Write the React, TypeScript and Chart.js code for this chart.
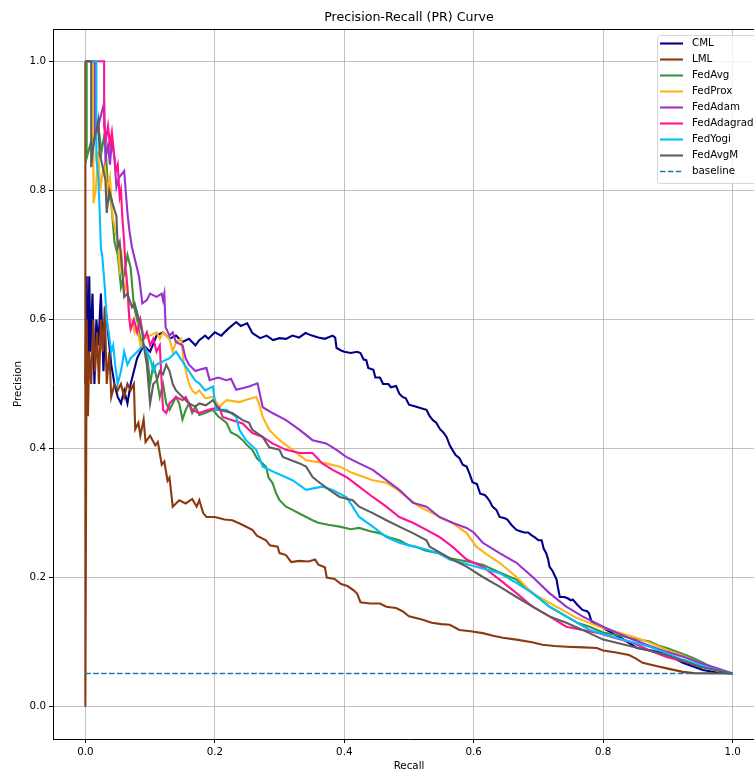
import React, { useEffect, useRef } from 'react';
import { Chart, registerables } from 'chart.js';

Chart.register(...registerables);

// ---------------- data ----------------
const chartTitle = 'Precision-Recall (PR) Curve';
const xAxisLabel = 'Recall';
const yAxisLabel = 'Precision';
const tickValues = [0, 0.2, 0.4, 0.6, 0.8, 1.0];

const seriesLabels = ['CML', 'LML', 'FedAvg', 'FedProx', 'FedAdam', 'FedAdagrad', 'FedYogi', 'FedAvgM'];
const seriesColors = ['#00008b', '#8b3a0f', '#3a923a', '#ffb414', '#9932cc', '#ff1493', '#00bfff', '#5e5e5e'];

const baselineLabel = 'baseline';
const baselineColor = '#1f77b4';
const baselineRecall = [0, 1];
const baselinePrecision = 0.0515;

// [recall, precision]
const cmlCurve = [
  [0, 0.5], [0.002, 0.667], [0.004, 0.5], [0.006, 0.667], [0.008, 0.55], [0.011, 0.64], [0.014, 0.5],
  [0.017, 0.6], [0.02, 0.56], [0.024, 0.64], [0.028, 0.52], [0.031, 0.62], [0.035, 0.58], [0.04, 0.53],
  [0.045, 0.5], [0.05, 0.48], [0.055, 0.47], [0.06, 0.49], [0.065, 0.47], [0.07, 0.5], [0.075, 0.52],
  [0.08, 0.54], [0.09, 0.56], [0.1, 0.55], [0.11, 0.575], [0.12, 0.58], [0.13, 0.57], [0.14, 0.575],
  [0.15, 0.565], [0.16, 0.57], [0.17, 0.56], [0.176, 0.568], [0.185, 0.575], [0.19, 0.57], [0.2, 0.58],
  [0.21, 0.575], [0.22, 0.585], [0.233, 0.596], [0.24, 0.59], [0.25, 0.594], [0.258, 0.579], [0.27, 0.571],
  [0.28, 0.575], [0.29, 0.568], [0.3, 0.571], [0.31, 0.57], [0.32, 0.575], [0.33, 0.572], [0.34, 0.579],
  [0.35, 0.575], [0.36, 0.572], [0.37, 0.57], [0.382, 0.575], [0.386, 0.572], [0.388, 0.556], [0.395, 0.552],
  [0.4, 0.55], [0.41, 0.548], [0.42, 0.55], [0.425, 0.548], [0.43, 0.538], [0.434, 0.537], [0.437, 0.525],
  [0.445, 0.522], [0.448, 0.51], [0.455, 0.51], [0.46, 0.5], [0.468, 0.5], [0.472, 0.495], [0.48, 0.497],
  [0.485, 0.485], [0.49, 0.48], [0.495, 0.478], [0.5, 0.468], [0.51, 0.465], [0.52, 0.462], [0.527, 0.46],
  [0.532, 0.45], [0.537, 0.444], [0.542, 0.44], [0.548, 0.43], [0.553, 0.425], [0.558, 0.418], [0.563, 0.405],
  [0.567, 0.398], [0.572, 0.39], [0.578, 0.385], [0.583, 0.375], [0.589, 0.372], [0.594, 0.36], [0.598, 0.348],
  [0.605, 0.345], [0.61, 0.33], [0.617, 0.328], [0.62, 0.325], [0.625, 0.318], [0.629, 0.31], [0.635, 0.305],
  [0.64, 0.294], [0.648, 0.292], [0.652, 0.29], [0.658, 0.282], [0.666, 0.274], [0.672, 0.272], [0.678, 0.27],
  [0.684, 0.27], [0.689, 0.266], [0.695, 0.262], [0.7, 0.258], [0.705, 0.258], [0.708, 0.245], [0.712, 0.238],
  [0.715, 0.228], [0.717, 0.217], [0.722, 0.21], [0.728, 0.197], [0.73, 0.185], [0.733, 0.17], [0.74, 0.17],
  [0.745, 0.168], [0.75, 0.165], [0.753, 0.166], [0.76, 0.158], [0.768, 0.15], [0.775, 0.148], [0.778, 0.145],
  [0.782, 0.132], [0.795, 0.125], [0.805, 0.119], [0.83, 0.105], [0.852, 0.091], [0.875, 0.087], [0.892, 0.083],
  [0.91, 0.075], [0.923, 0.068], [0.94, 0.062], [0.954, 0.057], [0.975, 0.053], [1.0, 0.0515],
];

const lmlCurve = [
  [0, 1.0], [0, 0], [0.002, 0.6], [0.004, 0.45], [0.006, 0.55], [0.009, 0.5], [0.012, 0.6], [0.015, 0.52],
  [0.018, 0.58], [0.021, 0.5], [0.024, 0.6], [0.027, 0.55], [0.03, 0.62], [0.033, 0.5], [0.037, 0.55],
  [0.04, 0.48], [0.045, 0.5], [0.05, 0.49], [0.055, 0.5], [0.06, 0.48], [0.065, 0.5], [0.07, 0.49],
  [0.075, 0.5], [0.077, 0.43], [0.082, 0.44], [0.085, 0.42], [0.09, 0.445], [0.093, 0.41], [0.1, 0.42],
  [0.108, 0.405], [0.112, 0.41], [0.118, 0.375], [0.122, 0.38], [0.127, 0.35], [0.13, 0.355], [0.135, 0.31],
  [0.145, 0.32], [0.155, 0.315], [0.165, 0.322], [0.172, 0.31], [0.176, 0.32], [0.182, 0.3], [0.187, 0.294],
  [0.2, 0.294], [0.215, 0.29], [0.227, 0.289], [0.24, 0.283], [0.258, 0.274], [0.265, 0.265], [0.279, 0.258],
  [0.285, 0.25], [0.297, 0.248], [0.3, 0.238], [0.31, 0.235], [0.318, 0.224], [0.33, 0.226], [0.345, 0.225],
  [0.355, 0.228], [0.36, 0.22], [0.37, 0.216], [0.373, 0.2], [0.385, 0.198], [0.395, 0.19], [0.405, 0.187],
  [0.415, 0.18], [0.42, 0.175], [0.425, 0.162], [0.44, 0.16], [0.455, 0.16], [0.465, 0.155], [0.48, 0.153],
  [0.49, 0.148], [0.5, 0.14], [0.52, 0.135], [0.535, 0.13], [0.55, 0.128], [0.563, 0.127], [0.578, 0.119],
  [0.595, 0.117], [0.614, 0.114], [0.63, 0.11], [0.645, 0.107], [0.666, 0.104], [0.69, 0.1], [0.706, 0.096],
  [0.725, 0.094], [0.743, 0.093], [0.77, 0.092], [0.79, 0.091], [0.8, 0.087], [0.82, 0.084], [0.84, 0.08],
  [0.85, 0.075], [0.861, 0.068], [0.882, 0.063], [0.9, 0.059], [0.923, 0.054], [0.94, 0.052], [1.0, 0.0515],
];

const fedAvgCurve = [
  [0, 1.0], [0.002, 1.0], [0.002, 0.85], [0.01, 0.88], [0.02, 0.9], [0.025, 0.86], [0.03, 0.89], [0.035, 0.8],
  [0.04, 0.78], [0.045, 0.72], [0.05, 0.7], [0.055, 0.65], [0.06, 0.67], [0.065, 0.7], [0.07, 0.68],
  [0.075, 0.62], [0.08, 0.6], [0.085, 0.57], [0.09, 0.56], [0.095, 0.55], [0.1, 0.5], [0.105, 0.53],
  [0.11, 0.51], [0.115, 0.48], [0.12, 0.5], [0.125, 0.47], [0.13, 0.46], [0.14, 0.48], [0.145, 0.47],
  [0.15, 0.445], [0.155, 0.46], [0.16, 0.47], [0.165, 0.455], [0.17, 0.465], [0.176, 0.452], [0.185, 0.455],
  [0.197, 0.46], [0.205, 0.45], [0.218, 0.44], [0.225, 0.425], [0.235, 0.42], [0.243, 0.413], [0.25, 0.405],
  [0.258, 0.398], [0.265, 0.385], [0.279, 0.372], [0.283, 0.355], [0.289, 0.347], [0.295, 0.33], [0.3, 0.32],
  [0.31, 0.31], [0.32, 0.305], [0.335, 0.297], [0.351, 0.289], [0.36, 0.285], [0.375, 0.282], [0.393, 0.279],
  [0.41, 0.275], [0.423, 0.277], [0.44, 0.272], [0.454, 0.269], [0.47, 0.262], [0.485, 0.258], [0.5, 0.25],
  [0.511, 0.248], [0.525, 0.242], [0.545, 0.238], [0.563, 0.23], [0.59, 0.225], [0.614, 0.22], [0.64, 0.208],
  [0.666, 0.197], [0.691, 0.176], [0.717, 0.155], [0.743, 0.14], [0.76, 0.13], [0.779, 0.124], [0.8, 0.115],
  [0.82, 0.111], [0.85, 0.105], [0.872, 0.101], [0.885, 0.095], [0.898, 0.091], [0.92, 0.083], [0.938, 0.076],
  [0.955, 0.068], [0.975, 0.057], [1.0, 0.0515],
];

const fedProxCurve = [
  [0, 1.0], [0.012, 1.0], [0.012, 0.85], [0.013, 0.78], [0.016, 0.8], [0.018, 0.83], [0.02, 0.86],
  [0.023, 0.8], [0.027, 0.83], [0.03, 0.84], [0.034, 0.8], [0.038, 0.82], [0.042, 0.76], [0.046, 0.74],
  [0.05, 0.72], [0.053, 0.68], [0.056, 0.7], [0.06, 0.64], [0.064, 0.66], [0.068, 0.6], [0.072, 0.6],
  [0.076, 0.58], [0.08, 0.59], [0.085, 0.56], [0.09, 0.57], [0.1, 0.575], [0.11, 0.58], [0.115, 0.57],
  [0.12, 0.58], [0.13, 0.57], [0.135, 0.55], [0.14, 0.565], [0.148, 0.57], [0.152, 0.535], [0.16, 0.5],
  [0.165, 0.49], [0.17, 0.485], [0.176, 0.49], [0.185, 0.478], [0.197, 0.48], [0.207, 0.465], [0.218, 0.475],
  [0.238, 0.472], [0.25, 0.476], [0.264, 0.48], [0.268, 0.47], [0.274, 0.449], [0.284, 0.429], [0.3, 0.413],
  [0.32, 0.398], [0.341, 0.382], [0.372, 0.377], [0.393, 0.372], [0.413, 0.362], [0.444, 0.351], [0.465, 0.347],
  [0.48, 0.338], [0.496, 0.325], [0.516, 0.31], [0.536, 0.3], [0.55, 0.292], [0.567, 0.285], [0.589, 0.269],
  [0.604, 0.248], [0.62, 0.236], [0.64, 0.223], [0.666, 0.201], [0.691, 0.176], [0.717, 0.161], [0.74, 0.148],
  [0.758, 0.138], [0.794, 0.124], [0.82, 0.116], [0.851, 0.107], [0.875, 0.098], [0.898, 0.088], [0.92, 0.08],
  [0.949, 0.068], [0.975, 0.058], [1.0, 0.0515],
];

const fedAdamCurve = [
  [0, 1.0], [0.015, 1.0], [0.015, 0.88], [0.02, 0.9], [0.025, 0.92], [0.029, 0.935], [0.031, 0.85],
  [0.035, 0.87], [0.038, 0.84], [0.041, 0.877], [0.045, 0.85], [0.048, 0.805], [0.052, 0.82], [0.06, 0.83],
  [0.065, 0.765], [0.068, 0.738], [0.072, 0.712], [0.078, 0.687], [0.083, 0.666], [0.088, 0.625], [0.095, 0.63],
  [0.1, 0.64], [0.11, 0.635], [0.118, 0.64], [0.12, 0.63], [0.122, 0.64], [0.124, 0.588], [0.13, 0.575],
  [0.135, 0.58], [0.14, 0.565], [0.15, 0.56], [0.155, 0.54], [0.16, 0.53], [0.17, 0.52], [0.176, 0.522],
  [0.187, 0.525], [0.192, 0.506], [0.205, 0.51], [0.218, 0.506], [0.225, 0.508], [0.233, 0.491], [0.253, 0.496],
  [0.266, 0.501], [0.274, 0.464], [0.289, 0.455], [0.31, 0.444], [0.331, 0.429], [0.351, 0.413], [0.372, 0.408],
  [0.388, 0.398], [0.403, 0.387], [0.423, 0.377], [0.444, 0.367], [0.465, 0.351], [0.485, 0.336], [0.506, 0.316],
  [0.527, 0.31], [0.547, 0.294], [0.567, 0.285], [0.589, 0.277], [0.6, 0.27], [0.614, 0.254], [0.64, 0.238],
  [0.666, 0.223], [0.691, 0.201], [0.717, 0.176], [0.743, 0.155], [0.768, 0.14], [0.8, 0.124], [0.82, 0.115],
  [0.846, 0.104], [0.87, 0.095], [0.898, 0.085], [0.925, 0.077], [0.949, 0.068], [0.975, 0.06], [1.0, 0.0515],
];

const fedAdagradCurve = [
  [0, 1.0], [0.029, 1.0], [0.029, 0.9], [0.032, 0.88], [0.035, 0.9], [0.038, 0.87], [0.041, 0.89],
  [0.044, 0.86], [0.047, 0.83], [0.05, 0.84], [0.053, 0.79], [0.055, 0.8], [0.057, 0.76], [0.06, 0.72],
  [0.062, 0.68], [0.065, 0.65], [0.068, 0.6], [0.07, 0.585], [0.075, 0.6], [0.08, 0.58], [0.085, 0.6],
  [0.09, 0.57], [0.095, 0.58], [0.1, 0.56], [0.105, 0.57], [0.11, 0.55], [0.115, 0.56], [0.118, 0.5],
  [0.12, 0.46], [0.125, 0.455], [0.13, 0.47], [0.14, 0.48], [0.15, 0.475], [0.155, 0.48], [0.16, 0.47],
  [0.165, 0.46], [0.176, 0.455], [0.19, 0.46], [0.207, 0.464], [0.212, 0.449], [0.227, 0.444], [0.243, 0.439],
  [0.258, 0.424], [0.274, 0.418], [0.289, 0.408], [0.31, 0.398], [0.331, 0.393], [0.351, 0.393], [0.366, 0.377],
  [0.382, 0.367], [0.403, 0.356], [0.423, 0.341], [0.444, 0.325], [0.465, 0.31], [0.485, 0.294], [0.506, 0.285],
  [0.527, 0.274], [0.547, 0.263], [0.567, 0.248], [0.589, 0.228], [0.614, 0.217], [0.64, 0.197], [0.666, 0.176],
  [0.691, 0.155], [0.717, 0.14], [0.743, 0.124], [0.768, 0.119], [0.794, 0.114], [0.82, 0.106], [0.846, 0.099],
  [0.87, 0.088], [0.898, 0.077], [0.925, 0.07], [0.954, 0.062], [0.975, 0.057], [1.0, 0.0515],
];

const fedYogiCurve = [
  [0, 1.0], [0.017, 1.0], [0.017, 0.85], [0.02, 0.82], [0.022, 0.77], [0.024, 0.71], [0.026, 0.7],
  [0.03, 0.65], [0.033, 0.6], [0.036, 0.58], [0.04, 0.55], [0.043, 0.56], [0.046, 0.53], [0.05, 0.5],
  [0.055, 0.52], [0.06, 0.55], [0.065, 0.53], [0.07, 0.54], [0.08, 0.55], [0.09, 0.56], [0.1, 0.54],
  [0.105, 0.52], [0.11, 0.53], [0.12, 0.535], [0.13, 0.54], [0.14, 0.55], [0.15, 0.535], [0.16, 0.52],
  [0.17, 0.505], [0.176, 0.501], [0.185, 0.49], [0.197, 0.496], [0.202, 0.46], [0.218, 0.46], [0.233, 0.449],
  [0.238, 0.429], [0.248, 0.413], [0.264, 0.398], [0.274, 0.372], [0.295, 0.362], [0.32, 0.351], [0.341, 0.336],
  [0.366, 0.341], [0.382, 0.336], [0.403, 0.325], [0.413, 0.31], [0.423, 0.294], [0.444, 0.279], [0.465, 0.263],
  [0.485, 0.254], [0.5, 0.25], [0.525, 0.244], [0.545, 0.238], [0.563, 0.228], [0.604, 0.217], [0.64, 0.207],
  [0.666, 0.192], [0.691, 0.176], [0.717, 0.155], [0.743, 0.14], [0.779, 0.119], [0.82, 0.107], [0.872, 0.093],
  [0.923, 0.073], [0.964, 0.06], [1.0, 0.0515],
];

const fedAvgMCurve = [
  [0, 1.0], [0.009, 1.0], [0.009, 0.836], [0.013, 0.877], [0.017, 0.893], [0.02, 0.909], [0.022, 0.857],
  [0.026, 0.84], [0.031, 0.816], [0.033, 0.765], [0.037, 0.8], [0.042, 0.78], [0.048, 0.76], [0.05, 0.712],
  [0.053, 0.72], [0.056, 0.687], [0.06, 0.635], [0.065, 0.64], [0.072, 0.619], [0.076, 0.625], [0.083, 0.599],
  [0.088, 0.58], [0.09, 0.56], [0.095, 0.53], [0.1, 0.47], [0.105, 0.5], [0.11, 0.505], [0.115, 0.52],
  [0.12, 0.515], [0.125, 0.53], [0.13, 0.52], [0.135, 0.5], [0.14, 0.49], [0.15, 0.48], [0.16, 0.47],
  [0.17, 0.465], [0.176, 0.47], [0.186, 0.467], [0.197, 0.475], [0.207, 0.46], [0.227, 0.455], [0.243, 0.444],
  [0.253, 0.44], [0.258, 0.429], [0.274, 0.418], [0.284, 0.402], [0.3, 0.398], [0.305, 0.387], [0.331, 0.377],
  [0.341, 0.372], [0.351, 0.356], [0.362, 0.347], [0.377, 0.336], [0.393, 0.325], [0.413, 0.32], [0.423, 0.31],
  [0.444, 0.3], [0.465, 0.289], [0.485, 0.279], [0.506, 0.269], [0.527, 0.258], [0.532, 0.248], [0.563, 0.23],
  [0.589, 0.217], [0.614, 0.201], [0.64, 0.186], [0.666, 0.17], [0.691, 0.155], [0.717, 0.14], [0.743, 0.13],
  [0.768, 0.119], [0.8, 0.104], [0.846, 0.093], [0.898, 0.08], [0.949, 0.062], [1.0, 0.0515],
];

const seriesCurves = [cmlCurve, lmlCurve, fedAvgCurve, fedProxCurve, fedAdamCurve, fedAdagradCurve, fedYogiCurve, fedAvgMCurve];

// ---------------- plugins ----------------
const framePlugin = {
  id: 'mplFrame',
  afterDatasetsDraw(chart: any) {
    const { ctx, chartArea } = chart;
    ctx.save();
    ctx.strokeStyle = '#000';
    ctx.lineWidth = 1;
    ctx.beginPath();
    ctx.moveTo(chartArea.left, chartArea.top + 0.5);
    ctx.lineTo(chartArea.right, chartArea.top + 0.5);
    ctx.moveTo(chartArea.right - 0.5, chartArea.top);
    ctx.lineTo(chartArea.right - 0.5, chartArea.bottom);
    ctx.stroke();
    ctx.restore();
  },
};

const legendPlugin = {
  id: 'mplLegend',
  afterDraw(chart: any) {
    const { ctx } = chart;
    const datasets = chart.data.datasets;
    const x0 = 657.5;
    const y0 = 35.5;
    const rowH = 16;
    const w = 130;
    const h = rowH * datasets.length + 4;
    ctx.save();
    ctx.beginPath();
    const r = 3;
    ctx.moveTo(x0 + r, y0);
    ctx.lineTo(x0 + w - r, y0);
    ctx.arcTo(x0 + w, y0, x0 + w, y0 + r, r);
    ctx.lineTo(x0 + w, y0 + h - r);
    ctx.arcTo(x0 + w, y0 + h, x0 + w - r, y0 + h, r);
    ctx.lineTo(x0 + r, y0 + h);
    ctx.arcTo(x0, y0 + h, x0, y0 + h - r, r);
    ctx.lineTo(x0, y0 + r);
    ctx.arcTo(x0, y0, x0 + r, y0, r);
    ctx.closePath();
    ctx.fillStyle = 'rgba(255,255,255,0.8)';
    ctx.fill();
    ctx.strokeStyle = 'rgba(204,204,204,0.8)';
    ctx.lineWidth = 1;
    ctx.stroke();
    ctx.font = '10.3px "DejaVu Sans"';
    ctx.textBaseline = 'middle';
    ctx.textAlign = 'left';
    datasets.forEach((ds: any, i: number) => {
      const y = 43.5 + i * rowH;
      ctx.beginPath();
      ctx.strokeStyle = ds.borderColor;
      ctx.lineWidth = ds.borderWidth;
      ctx.setLineDash(ds.borderDash || []);
      ctx.moveTo(660, y);
      ctx.lineTo(683, y);
      ctx.stroke();
      ctx.setLineDash([]);
      ctx.fillStyle = '#000';
      ctx.fillText(ds.label, 692, y);
    });
    ctx.restore();
  },
};

function makeAxis(fitSide: 'x' | 'y') {
  return {
    type: 'linear' as const,
    min: -0.05,
    max: 1.05,
    afterBuildTicks: (scale: any) => {
      scale.ticks = tickValues.map((v) => ({ value: v }));
    },
    afterFit: (scale: any) => {
      if (fitSide === 'y') scale.width = 53;
      else scale.height = 36;
    },
    ticks: {
      color: '#000',
      font: { family: 'DejaVu Sans', size: 10.3 },
      padding: 3,
      maxRotation: 0,
      autoSkip: false,
      callback: (v: any) => Number(v).toFixed(1),
    },
    grid: {
      color: '#b0b0b0',
      lineWidth: 0.8,
      tickColor: '#000',
      tickLength: 4,
      tickWidth: 1,
    },
    border: { display: true, color: '#000', width: 1 },
    title: {
      display: true,
      text: fitSide === 'x' ? xAxisLabel : yAxisLabel,
      color: '#000',
      font: { family: 'DejaVu Sans', size: 10.3 },
      padding: fitSide === 'x' ? { top: 0, bottom: 2 } : { top: 12, bottom: 0 },
    },
  };
}

export default function App() {
  const canvasRef = useRef<HTMLCanvasElement | null>(null);

  useEffect(() => {
    if (!canvasRef.current) return;
    const n = seriesLabels.length;
    const datasets: any[] = seriesLabels.map((label, i) => ({
      label,
      data: seriesCurves[i].map(([x, y]) => ({ x, y })),
      borderColor: seriesColors[i],
      backgroundColor: seriesColors[i],
      borderWidth: 2.1,
      pointRadius: 0,
      tension: 0,
      fill: false,
      order: n + 1 - i,
    }));
    datasets.push({
      label: baselineLabel,
      data: baselineRecall.map((x) => ({ x, y: baselinePrecision })),
      borderColor: baselineColor,
      backgroundColor: baselineColor,
      borderWidth: 1.5,
      borderDash: [5.5, 2.4],
      pointRadius: 0,
      fill: false,
      order: 0,
    });

    const chart = new Chart(canvasRef.current, {
      type: 'line',
      data: { datasets },
      options: {
        responsive: false,
        animation: false,
        events: [],
        layout: { padding: { left: 0, right: 25, top: 0, bottom: 0 } },
        plugins: {
          legend: { display: false },
          tooltip: { enabled: false },
          title: {
            display: true,
            text: chartTitle,
            color: '#000',
            fullSize: false,
            font: { family: 'DejaVu Sans', size: 12.6, weight: 'normal', lineHeight: 1.2 },
            padding: { top: 10.5, bottom: 3.4 },
          },
        },
        scales: {
          x: makeAxis('x'),
          y: makeAxis('y'),
        },
      } as any,
      plugins: [framePlugin, legendPlugin],
    });
    return () => chart.destroy();
  }, []);

  return (
    <div style={{ position: 'fixed', left: 0, top: 0, width: 754, height: 775, overflow: 'hidden', background: '#fff' }}>
      <canvas ref={canvasRef} width={790} height={775} style={{ display: 'block', width: 790, height: 775 }} />
    </div>
  );
}
